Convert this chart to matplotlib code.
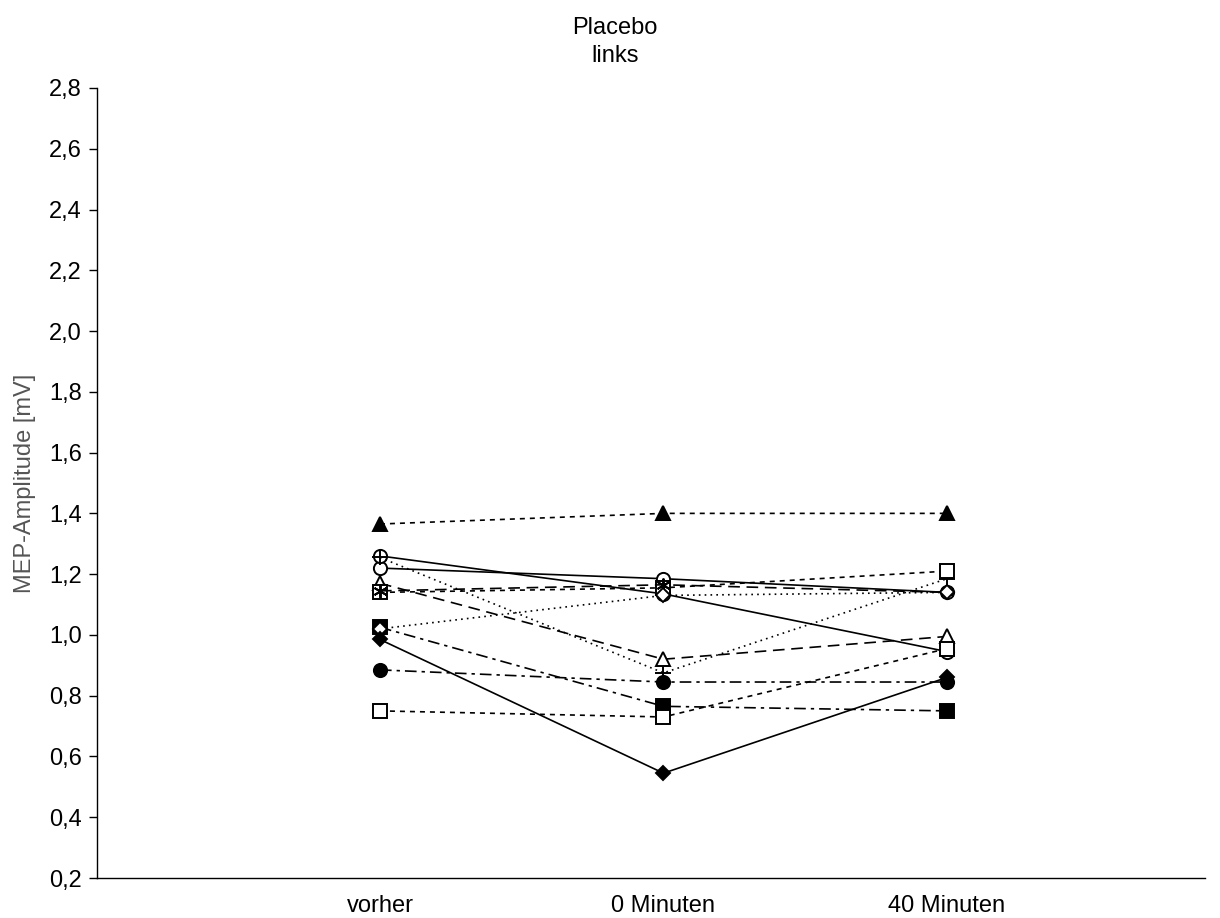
import matplotlib
matplotlib.use("Agg")
import matplotlib.pyplot as plt
from matplotlib.ticker import FuncFormatter

categories = ["vorher", "0 Minuten", "40 Minuten"]

s_tri_f = [1.365, 1.40, 1.40]
s_circ_a = [1.22, 1.185, 1.14]
s_circ_b = [1.26, 1.135, 0.945]
s_plus = [1.255, 0.875, 1.185]
s_tri_o = [1.17, 0.92, 0.995]
s_sq_a = [1.14, 1.155, 1.21]
s_star = [1.145, 1.165, 1.14]
s_sq_f = [1.025, 0.765, 0.75]
s_dia_o = [1.02, 1.13, 1.14]
s_dia_f = [0.985, 0.545, 0.86]
s_circ_f = [0.885, 0.845, 0.845]
s_sq_b = [0.75, 0.73, 0.955]

yticks = [0.2, 0.4, 0.6, 0.8, 1.0, 1.2, 1.4, 1.6, 1.8, 2.0, 2.2, 2.4, 2.6, 2.8]

plt.rcParams['font.family'] = ['Liberation Sans', 'DejaVu Sans']

fig = plt.figure(figsize=(12.2, 9.18), dpi=100)
ax = fig.add_axes([97/1220, 1 - 878/918, (1205-97)/1220, (878-88)/918])

short = (0, (3, 3))
dot = (0, (1, 2.5))
longd = (0, (7, 4))
dashdot = (0, (7, 3, 2, 3))

series = [
    (s_tri_f, '^', 'black', short),
    (s_circ_a, 'o', 'white', '-'),
    (s_circ_b, 'o', 'white', '-'),
    (s_plus, '+', 'black', dot),
    (s_tri_o, '^', 'white', longd),
    (s_sq_a, 's', 'white', short),
    (s_star, (6, 2, 0), 'black', longd),
    (s_sq_f, 's', 'black', dashdot),
    (s_dia_o, 'D', 'white', dot),
    (s_dia_f, 'D', 'black', '-'),
    (s_circ_f, 'o', 'black', dashdot),
    (s_sq_b, 's', 'white', short),
]

x = list(range(len(categories)))
for vals, m, fc, ls in series:
    ms = 9.5
    if m == 'D':
        ms = 7.5
    if m == '+':
        ms = 12
    if isinstance(m, tuple):
        ms = 10
    ax.plot(x, vals, color='black', linestyle=ls, linewidth=1.2,
            marker=m, markersize=ms, markerfacecolor=fc,
            markeredgecolor='black', markeredgewidth=1.4)

ax.set_xlim(-0.998, 2.91)
ax.set_ylim(0.2, 2.8)
ax.set_xticks(x)
ax.set_xticklabels(categories)
ax.set_yticks(yticks)
ax.yaxis.set_major_formatter(FuncFormatter(lambda v, p: f"{v:.1f}".replace('.', ',')))
ax.tick_params(axis='both', labelsize=17, direction='out', length=6, width=1, colors='black', pad=5)
ax.tick_params(axis='x', length=0, pad=12)
ax.spines['top'].set_visible(False)
ax.spines['right'].set_visible(False)
ax.spines['left'].set_linewidth(1)
ax.spines['bottom'].set_linewidth(1)
ax.set_ylabel("MEP-Amplitude [mV]", fontsize=17, color='#555555', labelpad=9)

fig.text(615/1220, 1 - 42/918, "Placebo\nlinks", ha='center', va='center', fontsize=17, linespacing=1.3)

fig.savefig("out.png", dpi=100)
